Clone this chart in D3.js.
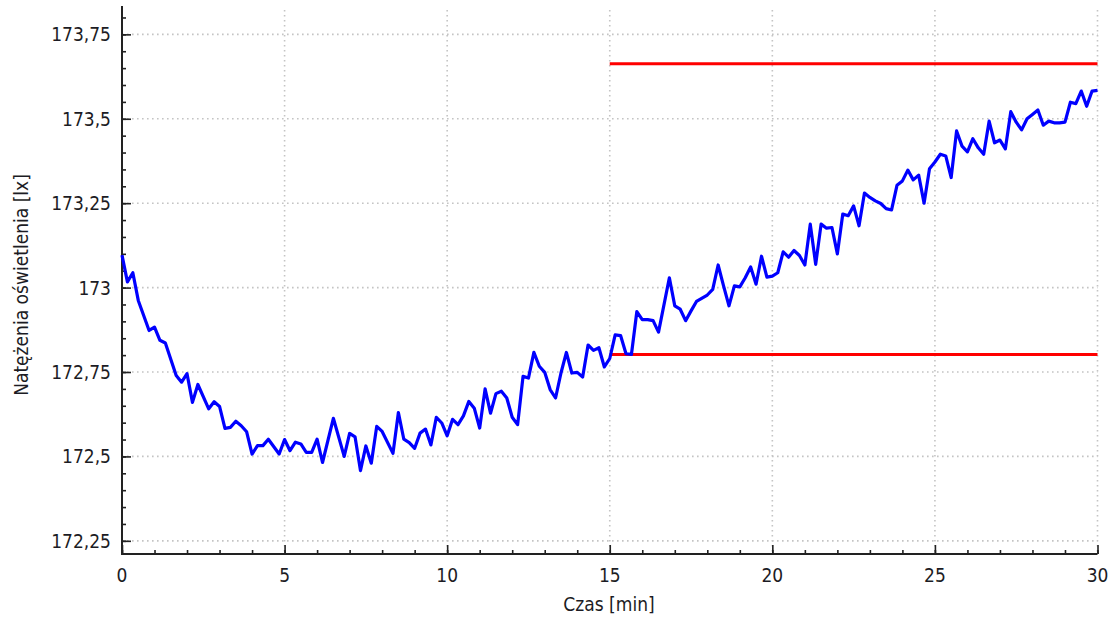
<!DOCTYPE html>
<html>
<head>
<meta charset="utf-8">
<script src="https://cdn.jsdelivr.net/npm/d3@7"></script>
<style>
  body { margin: 0; background: #fff; }
  text { font-family: Tahoma, "DejaVu Sans Condensed", "DejaVu Sans", sans-serif; fill: #1c1c24; }
</style>
</head>
<body>
<svg id="chart"></svg>
<script>
// pomiar co 10 s
const czasSek = [
  0, 10, 20, 30, 50, 60, 70, 80, 100, 110, 120, 130, 140, 160, 170, 180, 190, 200,
  210, 220, 230, 240, 250, 260, 270, 290, 300, 310, 320, 330, 340, 350, 360, 370,
  390, 410, 420, 430, 440, 450, 460, 470, 480, 500, 510, 520, 530, 540, 550, 560,
  570, 580, 590, 600, 610, 620, 630, 640, 650, 660, 670, 680, 690, 700, 710, 720,
  730, 740, 750, 760, 770, 780, 790, 800, 810, 820, 830, 840, 850, 860, 870, 880,
  890, 900, 910, 920, 930, 940, 950, 960, 970, 980, 990, 1010, 1020, 1030, 1040,
  1050, 1060, 1080, 1090, 1100, 1110, 1120, 1130, 1140, 1150, 1160, 1170, 1180,
  1190, 1200, 1210, 1220, 1230, 1240, 1250, 1260, 1270, 1280, 1290, 1300, 1310,
  1320, 1330, 1340, 1350, 1360, 1370, 1380, 1390, 1400, 1410, 1420, 1430, 1440,
  1450, 1460, 1470, 1480, 1490, 1500, 1510, 1520, 1530, 1540, 1550, 1560, 1570,
  1580, 1590, 1600, 1610, 1620, 1630, 1640, 1650, 1660, 1670, 1680, 1690, 1700,
  1710, 1720, 1730, 1740, 1750, 1760, 1770, 1780, 1790, 1800
];
const natezenie = [
  173.096, 173.017, 173.044, 172.962, 172.873, 172.883, 172.844, 172.836, 172.740,
  172.720, 172.745, 172.660, 172.713, 172.641, 172.662, 172.648, 172.583, 172.586,
  172.604, 172.591, 172.573, 172.507, 172.532, 172.532, 172.551, 172.507, 172.550,
  172.517, 172.542, 172.537, 172.512, 172.512, 172.551, 172.482, 172.613, 172.500,
  172.568, 172.558, 172.458, 172.531, 172.480, 172.589, 172.574, 172.509, 172.630,
  172.551, 172.541, 172.524, 172.569, 172.581, 172.534, 172.616, 172.599, 172.561,
  172.610, 172.594, 172.620, 172.663, 172.643, 172.584, 172.700, 172.628, 172.686,
  172.693, 172.673, 172.616, 172.594, 172.737, 172.732, 172.808, 172.767, 172.749,
  172.698, 172.673, 172.747, 172.808, 172.747, 172.749, 172.735, 172.830, 172.814,
  172.822, 172.765, 172.790, 172.860, 172.858, 172.804, 172.802, 172.929, 172.905,
  172.905, 172.902, 172.868, 173.029, 172.946, 172.936, 172.902, 172.931, 172.959,
  172.978, 172.995, 173.067, 173.005, 172.946, 173.005, 173.002, 173.029, 173.061,
  173.010, 173.093, 173.031, 173.034, 173.044, 173.106, 173.090, 173.110, 173.095,
  173.067, 173.188, 173.069, 173.188, 173.176, 173.178, 173.100, 173.218, 173.213,
  173.242, 173.183, 173.280, 173.267, 173.257, 173.249, 173.234, 173.230, 173.303,
  173.316, 173.348, 173.319, 173.333, 173.250, 173.352, 173.372, 173.395, 173.390,
  173.326, 173.464, 173.419, 173.402, 173.441, 173.414, 173.395, 173.493, 173.429,
  173.437, 173.411, 173.521, 173.490, 173.467, 173.500, 173.513, 173.526, 173.481,
  173.493, 173.488, 173.488, 173.490, 173.549, 173.545, 173.582, 173.537, 173.582,
  173.584
];
// progi (czerwone linie)
const progWartosc = [173.663, 172.802];
const progOd = [15, 15];
const progDo = [30, 30];

const xTicks = [0, 5, 10, 15, 20, 25, 30];
const yTicks = [172.25, 172.5, 172.75, 173, 173.25, 173.5, 173.75];

const width = 1115;
const height = 621;

const svg = d3.select('#chart').attr('width', width).attr('height', height);

const xScale = d3.scaleLinear().domain([0, 30]).range([122, 1097.5]);
const yScale = d3.scaleLinear().domain([172.211, 173.834]).range([554, 6]);

const pl = d3.formatLocale({ decimal: ',', thousands: ' ', grouping: [3], currency: ['', ' zł'] });
const fmt = v => pl.format('~')(+v.toFixed(2));

// siatka
const grid = svg.append('g').attr('stroke', '#c4c4c4').attr('stroke-width', 1.6).attr('stroke-dasharray', '1.6,3.4');
grid.selectAll('.gx')
  .data(xTicks.filter(d => d > 0))
  .enter()
  .append('line')
  .attr('x1', d => xScale(d)).attr('x2', d => xScale(d))
  .attr('y1', 10).attr('y2', 554);
grid.selectAll('.gy')
  .data(yTicks)
  .enter()
  .append('line')
  .attr('x1', 122).attr('x2', 1097.5)
  .attr('y1', d => yScale(d)).attr('y2', d => yScale(d));

// osie (kreski do wewnatrz)
const xAxis = d3.axisTop(xScale).tickValues(xTicks).tickSize(9).tickFormat('');
const xMinor = d3.axisTop(xScale).tickValues(d3.range(0, 31, 1)).tickSize(4).tickFormat('');
const yAxis = d3.axisRight(yScale).tickValues(yTicks).tickSize(9).tickFormat('');
const yMinor = d3.axisRight(yScale).tickValues(d3.range(0, 32).map(i => 172.25 + i * 0.05)).tickSize(4).tickFormat('');

const styleAxis = g => {
  g.select('.domain').remove();
  g.selectAll('line').attr('stroke', '#222').attr('stroke-width', 1.6);
};
svg.append('g').attr('transform', 'translate(0,554)').call(xMinor).call(styleAxis);
svg.append('g').attr('transform', 'translate(0,554)').call(xAxis).call(styleAxis);
svg.append('g').attr('transform', 'translate(122,0)').call(yMinor).call(styleAxis);
svg.append('g').attr('transform', 'translate(122,0)').call(yAxis).call(styleAxis);

svg.append('path')
  .attr('d', 'M122,6V554H1097.5')
  .attr('fill', 'none')
  .attr('stroke', '#222')
  .attr('stroke-width', 2);

// opisy
svg.selectAll('.xl')
  .data(xTicks)
  .enter()
  .append('text')
  .attr('x', d => xScale(d))
  .attr('y', 582)
  .attr('text-anchor', 'middle')
  .attr('font-size', 19)
  .text(d => d);
svg.selectAll('.yl')
  .data(yTicks)
  .enter()
  .append('text')
  .attr('x', 111)
  .attr('y', d => yScale(d) + 7)
  .attr('text-anchor', 'end')
  .attr('font-size', 19)
  .text(fmt);

svg.append('text')
  .attr('x', 609)
  .attr('y', 611)
  .attr('text-anchor', 'middle')
  .attr('font-size', 19)
  .text('Czas [min]');
svg.append('text')
  .attr('transform', 'translate(28,285) rotate(-90)')
  .attr('text-anchor', 'middle')
  .attr('font-size', 19)
  .text('Natężenia oświetlenia [lx]');

// progi
svg.selectAll('.prog')
  .data(progWartosc)
  .enter()
  .append('line')
  .attr('x1', (d, i) => xScale(progOd[i]))
  .attr('x2', (d, i) => xScale(progDo[i]))
  .attr('y1', d => yScale(d))
  .attr('y2', d => yScale(d))
  .attr('stroke', '#ff0000')
  .attr('stroke-width', 3);

// seria
const line = d3.line()
  .x((d, i) => xScale(czasSek[i] / 60))
  .y(d => yScale(d));
svg.append('path')
  .datum(natezenie)
  .attr('d', line)
  .attr('fill', 'none')
  .attr('stroke', '#0000ff')
  .attr('stroke-width', 3.2)
  .attr('stroke-linejoin', 'round');
</script>
</body>
</html>
